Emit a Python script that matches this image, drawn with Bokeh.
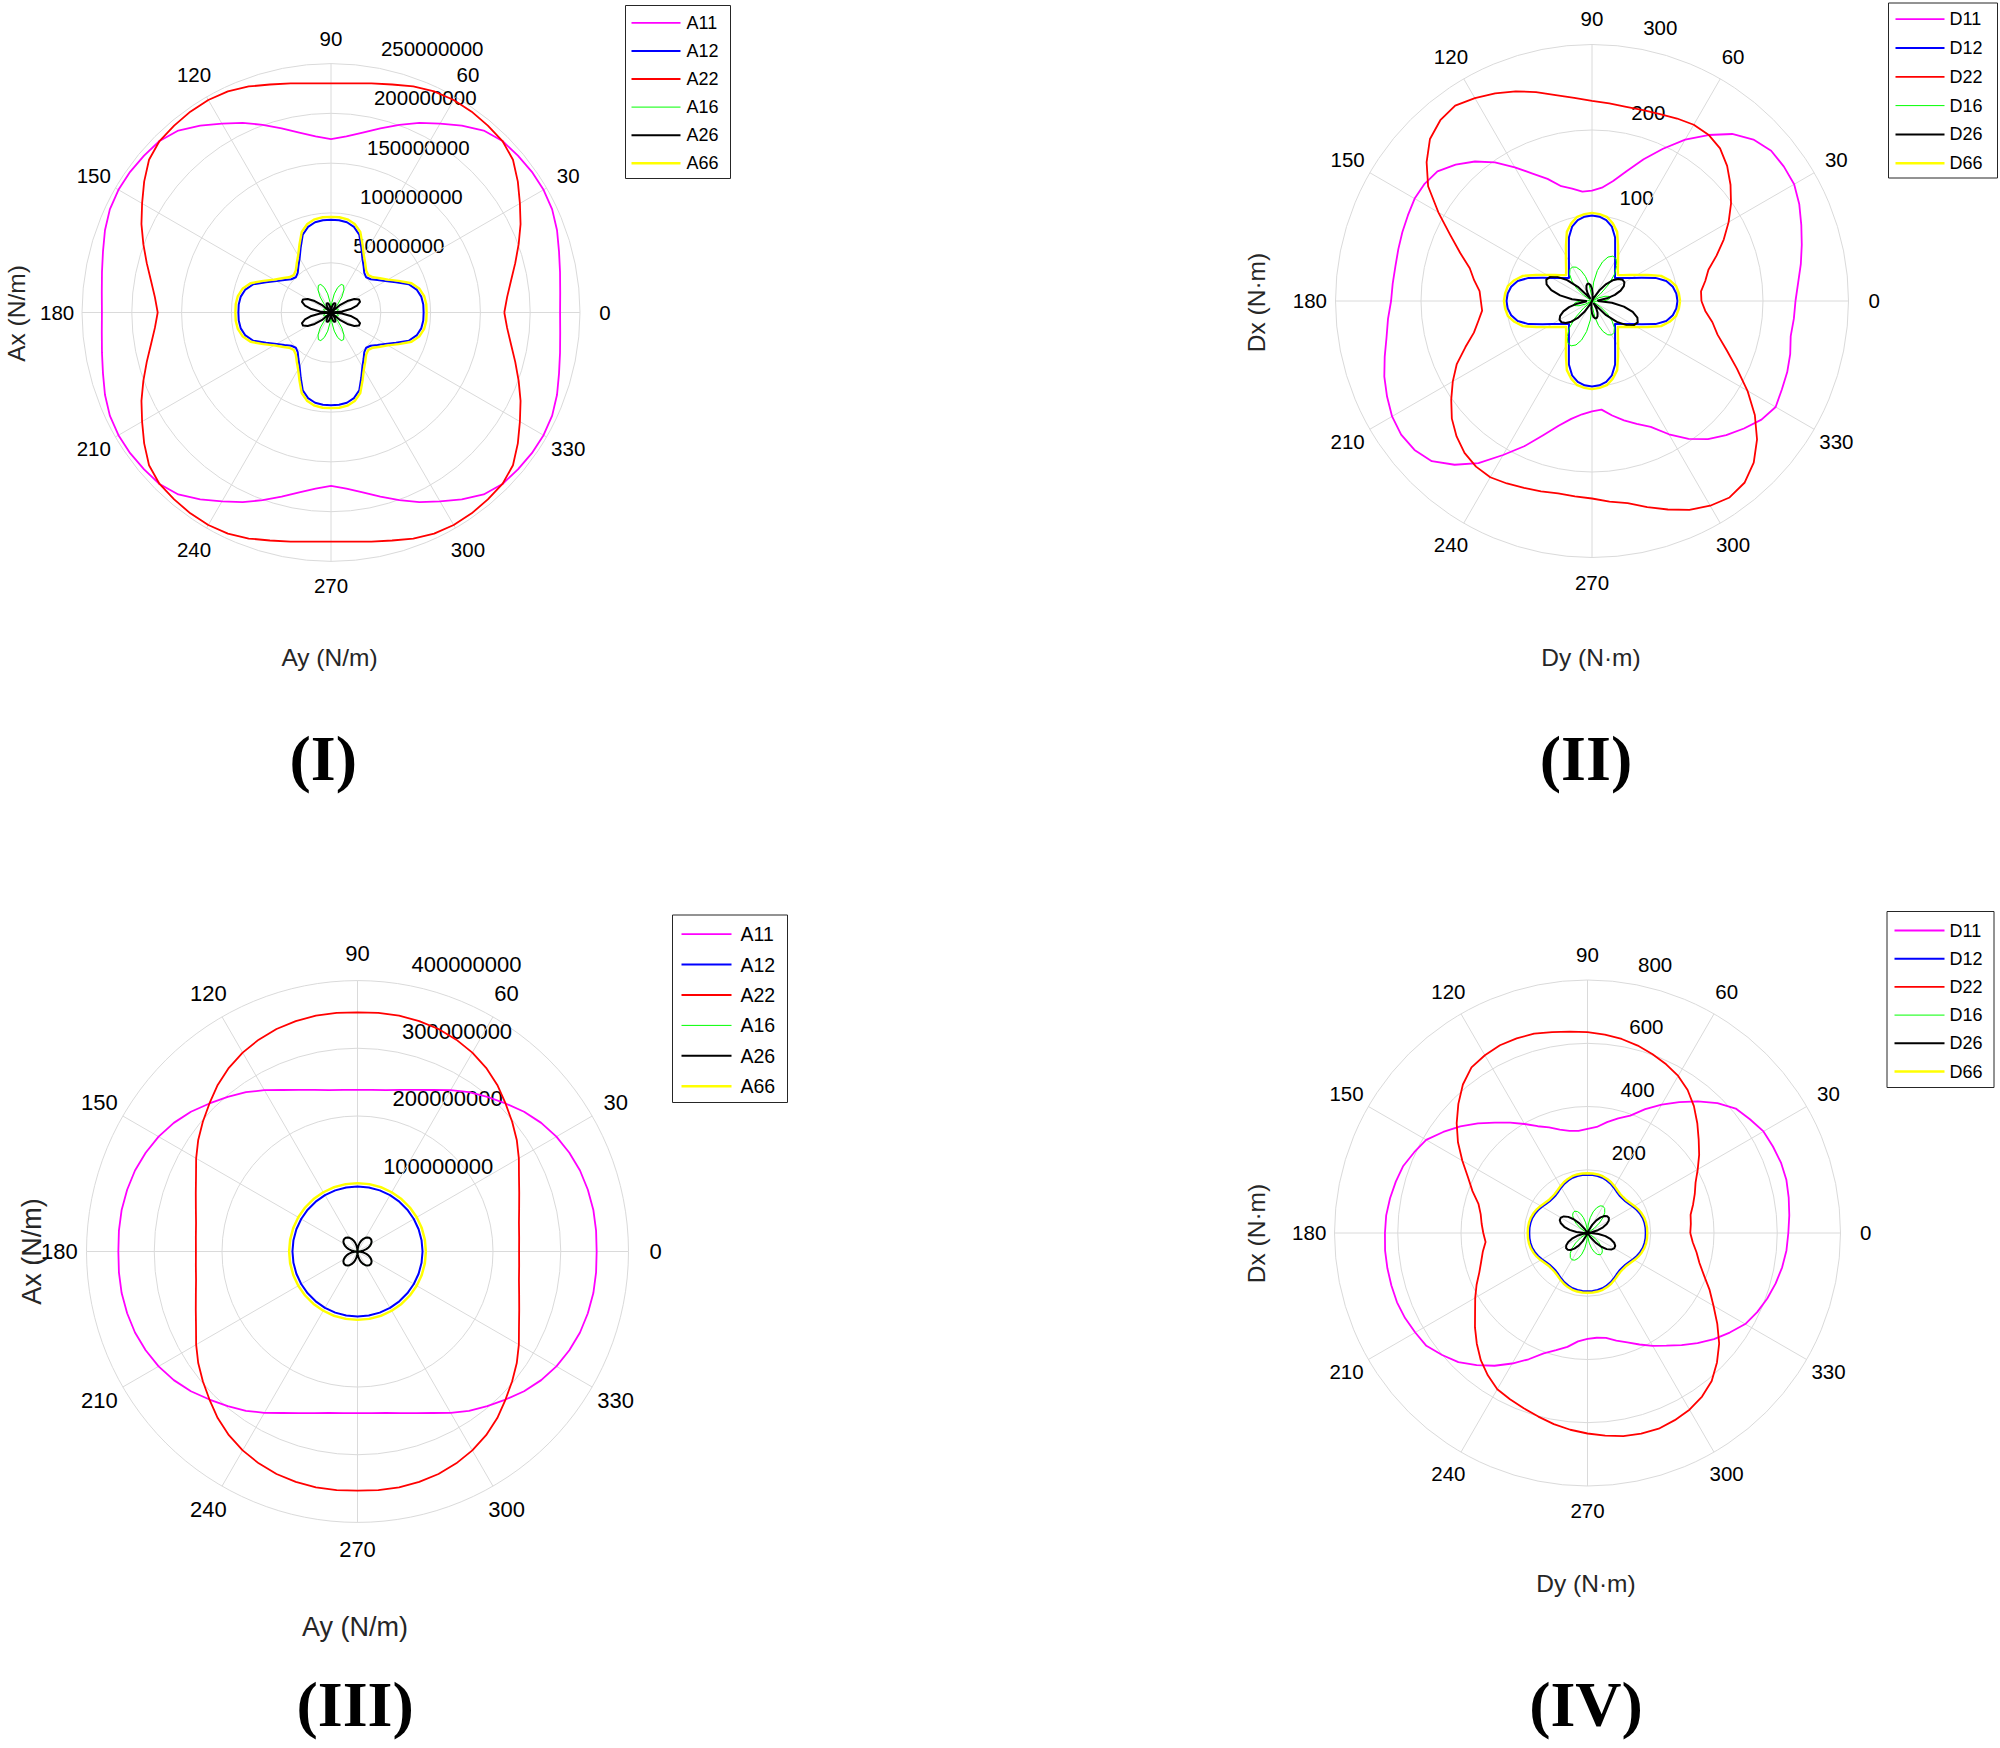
import math
from bokeh.plotting import figure
from bokeh.layouts import column, row
from bokeh.models import Range1d
from bokeh.core.properties import value
from bokeh.embed import file_html
from bokeh.resources import INLINE

# ---------------- angles (degrees) ----------------
TH10 = list(range(0, 360, 10))
TH5 = list(range(0, 360, 5))

# ---------------- Panel I : A matrix (x 1e6 N/m) ----------------
A11_I = [230, 231, 233.5, 237, 241.5, 245, 246.4, 246.2, 245, 243.5, 238.5, 229, 219, 210, 200.5, 191.5, 183.5, 177.5,
         174, 177.5, 183.5, 191.5, 200.5, 210, 219, 229, 238.5, 243.5, 245, 246.2, 246.4, 245, 241.5, 237, 233.5, 231,
         230, 231, 233.5, 237, 241.5, 245, 246.4, 246.2, 245, 243.5, 238.5, 229, 219, 210, 200.5, 191.5, 183.5, 177.5,
         174, 177.5, 183.5, 191.5, 200.5, 210, 219, 229, 238.5, 243.5, 245, 246.2, 246.4, 245, 241.5, 237, 233.5, 231]
A22_I = [174, 177.5, 183.5, 191.5, 200.5, 210, 219, 229, 238.5, 243.5, 245, 246.2, 246.4, 245, 241.5, 237, 233.5, 231,
         230, 231, 233.5, 237, 241.5, 245, 246.4, 246.2, 245, 243.5, 238.5, 229, 219, 210, 200.5, 191.5, 183.5, 177.5,
         174, 177.5, 183.5, 191.5, 200.5, 210, 219, 229, 238.5, 243.5, 245, 246.2, 246.4, 245, 241.5, 237, 233.5, 231,
         230, 231, 233.5, 237, 241.5, 245, 246.4, 246.2, 245, 243.5, 238.5, 229, 219, 210, 200.5, 191.5, 183.5, 177.5]
A12_I = [93, 93, 92, 89, 83, 72, 63, 57, 52, 50, 52, 57, 63, 72, 83, 89, 92, 93,
         93, 93, 92, 89, 83, 72, 63, 57, 52, 50, 52, 57, 63, 72, 83, 89, 92, 93,
         93, 93, 92, 89, 83, 72, 63, 57, 52, 50, 52, 57, 63, 72, 83, 89, 92, 93,
         93, 93, 92, 89, 83, 72, 63, 57, 52, 50, 52, 57, 63, 72, 83, 89, 92, 93]
A66_I = [96, 96, 95, 92, 86, 75, 66, 60, 55, 53, 55, 60, 66, 75, 86, 92, 95, 96,
         96, 96, 95, 92, 86, 75, 66, 60, 55, 53, 55, 60, 66, 75, 86, 92, 95, 96,
         96, 96, 95, 92, 86, 75, 66, 60, 55, 53, 55, 60, 66, 75, 86, 92, 95, 96,
         96, 96, 95, 92, 86, 75, 66, 60, 55, 53, 55, 60, 66, 75, 86, 92, 95, 96]
A16_I = [0, 3, 5, 7, 8, 8, 7, 5, 3, 0, 10, 19, 26, 30, 30, 26, 19, 10,
         0, 10, 19, 26, 30, 30, 26, 19, 10, 0, 3, 5, 7, 8, 8, 7, 5, 3,
         0, 3, 5, 7, 8, 8, 7, 5, 3, 0, 10, 19, 26, 30, 30, 26, 19, 10,
         0, 10, 19, 26, 30, 30, 26, 19, 10, 0, 3, 5, 7, 8, 8, 7, 5, 3]
A26_I = [0, 11, 20, 27, 31, 31, 27, 20, 11, 0, 3, 6, 9, 10, 10, 9, 6, 3,
         0, 3, 6, 9, 10, 10, 9, 6, 3, 0, 11, 20, 27, 31, 31, 27, 20, 11,
         0, 11, 20, 27, 31, 31, 27, 20, 11, 0, 3, 6, 9, 10, 10, 9, 6, 3,
         0, 3, 6, 9, 10, 10, 9, 6, 3, 0, 11, 20, 27, 31, 31, 27, 20, 11]

# ---------------- Panel II : D matrix (N.m) ----------------
D11_II = [238, 242, 248, 254, 260.5, 267.5, 273, 274, 273.5, 267, 255, 237, 218, 196.5, 176.5, 157.5, 142.5, 133,
          129, 128.5, 133.5, 139, 152, 164.5, 180.5, 198, 213, 225.5, 236, 239, 239.5, 237.5, 236, 234.5, 233.5, 234,
          235, 239.5, 244, 251, 258.5, 264.5, 270, 272.5, 271, 265, 250, 231.5, 208, 187.5, 167, 151, 140, 133,
          129, 127.5, 136, 144.5, 153, 162.5, 180, 197, 211, 222, 232, 242, 248, 245, 243, 240, 236, 237]
D22_II = [128, 128, 134.5, 141, 155, 170, 184.5, 198.5, 211.5, 223.5, 233, 237.5, 238, 235.5, 232.5, 231, 230.5, 232,
          234, 238.5, 244.5, 253, 261, 268, 274, 279, 276, 268, 252.5, 234, 207.5, 183, 164, 148, 140, 132,
          130, 129, 135, 143, 157.5, 174.5, 188, 201, 214, 224, 232, 236.5, 238, 235.5, 232.5, 230.5, 228.5, 229.5,
          231, 235.5, 240, 249.5, 259.5, 269.5, 276.5, 280.5, 277.5, 267.5, 252, 232.5, 210, 187, 167.5, 152, 143, 133]
D12_II = [100, 99, 96, 90, 79, 64, 54, 47, 42, 38, 42, 47, 54, 64, 79, 90, 96, 99,
          100, 99, 96, 90, 79, 64, 54, 47, 42, 38, 42, 47, 54, 64, 79, 90, 96, 99,
          100, 99, 96, 90, 79, 64, 54, 47, 42, 38, 42, 47, 54, 64, 79, 90, 96, 99,
          100, 99, 96, 90, 79, 64, 54, 47, 42, 38, 42, 47, 54, 64, 79, 90, 96, 99]
D66_II = [103, 102, 100, 94, 86, 72, 61, 53, 47, 43, 47, 53, 61, 72, 86, 94, 100, 102,
          103, 102, 100, 94, 86, 72, 61, 53, 47, 43, 47, 53, 61, 72, 86, 94, 100, 102,
          103, 102, 100, 94, 86, 72, 61, 53, 47, 43, 47, 53, 61, 72, 86, 94, 100, 102,
          103, 102, 100, 94, 86, 72, 61, 53, 47, 43, 47, 53, 61, 72, 86, 94, 100, 102]
D16_II = [13.5, 19.3, 21.9, 20.8, 16.2, 8.8, 0, 0, 12.9, 28, 41, 50.7, 56.5, 57.9, 54.7, 47.3, 36.2, 22.2,
          6.5, 7.4, 19.3, 29.8, 38.1, 43.6, 45.9, 44.9, 40.7, 33.4, 23.7, 12.3, 0, 0, 0, 0, 0, 5.4,
          13.5, 19.3, 21.9, 20.8, 16.2, 8.8, 0, 0, 12.9, 28, 41, 50.7, 56.5, 57.9, 54.7, 47.3, 36.2, 22.2,
          6.5, 7.4, 19.3, 29.8, 38.1, 43.6, 45.9, 44.9, 40.7, 33.4, 23.7, 12.3, 0, 0, 0, 0, 0, 5.4]
D26_II = [6.9, 6.9, 17.9, 27.7, 35.6, 41.1, 43.8, 43.5, 40.2, 34.2, 25.9, 15.8, 4.6, 0, 0, 0, 2.6, 8.9,
          14.4, 18.4, 20.6, 20.8, 19, 15.3, 10.1, 3.9, 6.9, 23.4, 37.9, 49.3, 56.5, 59, 56.5, 49.3, 37.9, 23.4,
          6.9, 6.9, 17.9, 27.7, 35.6, 41.1, 43.8, 43.5, 40.2, 34.2, 25.9, 15.8, 4.6, 0, 0, 0, 2.6, 8.9,
          14.4, 18.4, 20.6, 20.8, 19, 15.3, 10.1, 3.9, 6.9, 23.4, 37.9, 49.3, 56.5, 59, 56.5, 49.3, 37.9, 23.4]

# ---------------- Panel III : A matrix (x 1e6 N/m) ----------------
A11_III = [353, 353.5, 353.5, 352, 349.5, 345, 339, 331, 321, 309, 298, 287, 275, 263, 254, 247, 242, 239.5,
           238.5, 239.5, 242, 247, 254, 263, 275, 287, 298, 309, 321, 331, 339, 345, 349.5, 352, 353.5, 353.5,
           353, 353.5, 353.5, 352, 349.5, 345, 339, 331, 321, 309, 298, 287, 275, 263, 254, 247, 242, 239.5,
           238.5, 239.5, 242, 247, 254, 263, 275, 287, 298, 309, 321, 331, 339, 345, 349.5, 352, 353.5, 353.5]
A22_III = [238.5, 239.5, 242, 247, 254, 263, 275, 287, 298, 309, 321, 331, 339, 345, 349.5, 352, 353.5, 353.5,
           353, 353.5, 353.5, 352, 349.5, 345, 339, 331, 321, 309, 298, 287, 275, 263, 254, 247, 242, 239.5,
           238.5, 239.5, 242, 247, 254, 263, 275, 287, 298, 309, 321, 331, 339, 345, 349.5, 352, 353.5, 353.5,
           353, 353.5, 353.5, 352, 349.5, 345, 339, 331, 321, 309, 298, 287, 275, 263, 254, 247, 242, 239.5]
A12_III = [96, 96, 96, 96, 96, 96, 96, 96, 96, 96, 96, 96, 96, 96, 96, 96, 96, 96,
           96, 96, 96, 96, 96, 96, 96, 96, 96, 96, 96, 96, 96, 96, 96, 96, 96, 96]
A66_III = [101, 101, 101, 101, 101, 101, 101, 101, 101, 101, 101, 101, 101, 101, 101, 101, 101, 101,
           101, 101, 101, 101, 101, 101, 101, 101, 101, 101, 101, 101, 101, 101, 101, 101, 101, 101]
A16_III = [0, 4.7, 9.2, 13.5, 17.4, 20.7, 23.4, 25.4, 26.6, 27, 26.6, 25.4, 23.4, 20.7, 17.4, 13.5, 9.2, 4.7,
           0, 4.7, 9.2, 13.5, 17.4, 20.7, 23.4, 25.4, 26.6, 27, 26.6, 25.4, 23.4, 20.7, 17.4, 13.5, 9.2, 4.7,
           0, 4.7, 9.2, 13.5, 17.4, 20.7, 23.4, 25.4, 26.6, 27, 26.6, 25.4, 23.4, 20.7, 17.4, 13.5, 9.2, 4.7,
           0, 4.7, 9.2, 13.5, 17.4, 20.7, 23.4, 25.4, 26.6, 27, 26.6, 25.4, 23.4, 20.7, 17.4, 13.5, 9.2, 4.7]
A26_III = [0, 4.7, 9.2, 13.5, 17.4, 20.7, 23.4, 25.4, 26.6, 27, 26.6, 25.4, 23.4, 20.7, 17.4, 13.5, 9.2, 4.7,
           0, 4.7, 9.2, 13.5, 17.4, 20.7, 23.4, 25.4, 26.6, 27, 26.6, 25.4, 23.4, 20.7, 17.4, 13.5, 9.2, 4.7,
           0, 4.7, 9.2, 13.5, 17.4, 20.7, 23.4, 25.4, 26.6, 27, 26.6, 25.4, 23.4, 20.7, 17.4, 13.5, 9.2, 4.7,
           0, 4.7, 9.2, 13.5, 17.4, 20.7, 23.4, 25.4, 26.6, 27, 26.6, 25.4, 23.4, 20.7, 17.4, 13.5, 9.2, 4.7]

# ---------------- Panel IV : D matrix (N.m) ----------------
D11_IV = [635, 640.5, 646, 651, 651, 647, 642.5, 627, 612, 581, 543, 505.5, 469, 432, 395, 375, 356, 336.5,
          329.5, 324, 328, 338.5, 355.5, 372.5, 398, 426, 455.5, 490, 525, 557, 589, 604.5, 620, 627.5, 634, 639,
          640.5, 642.5, 642.5, 642, 641, 636.5, 629, 622, 600, 577.5, 545.5, 512.5, 476.5, 440.5, 405, 383.5, 365.5, 344,
          335, 332.5, 336.5, 352, 368, 389, 412, 435, 463, 492, 522, 549, 576, 592, 605, 616, 625, 631.5]
D22_IV = [325, 328, 331, 345.5, 361, 377, 402.5, 431, 459, 491, 523.5, 552, 573.5, 588.5, 601.5, 613.5, 623, 629.5,
          635, 639, 645, 652.5, 655, 655, 649, 639.5, 613, 577.5, 540, 500, 457, 417, 387, 357, 343, 336,
          329.5, 323.5, 336, 348, 364, 387, 410, 434, 464.5, 495, 525, 549.5, 570.5, 580, 589.5, 601, 613.5, 624.5,
          634, 643, 652, 656.5, 658.5, 653, 645, 631.5, 611, 579, 543.5, 501, 460, 426, 392, 366.5, 350, 334]
D12_IV = [184, 184, 183, 181, 177, 172, 166, 160, 156, 155, 156, 160, 166, 172, 177, 181, 183, 184,
          184, 184, 183, 181, 177, 172, 166, 160, 156, 155, 156, 160, 166, 172, 177, 181, 183, 184,
          184, 184, 183, 181, 177, 172, 166, 160, 156, 155, 156, 160, 166, 172, 177, 181, 183, 184,
          184, 184, 183, 181, 177, 172, 166, 160, 156, 155, 156, 160, 166, 172, 177, 181, 183, 184]
D66_IV = [189, 189, 188, 186, 182, 177, 171, 165, 161, 160, 161, 165, 171, 177, 182, 186, 188, 189,
          189, 189, 188, 186, 182, 177, 171, 165, 161, 160, 161, 165, 171, 177, 182, 186, 188, 189,
          189, 189, 188, 186, 182, 177, 171, 165, 161, 160, 161, 165, 171, 177, 182, 186, 188, 189,
          189, 189, 188, 186, 182, 177, 171, 165, 161, 160, 161, 165, 171, 177, 182, 186, 188, 189]
D16_IV = [0, 0, 0, 0, 0, 0, 0, 25.4, 49, 69.3, 84.9, 94.7, 98, 94.7, 84.9, 69.3, 49, 25.4,
          0, 12.5, 32.5, 50.3, 64.7, 74.7, 79.6, 79, 73.1, 62.2, 47, 28.7, 8.4, 0, 0, 0, 0, 0,
          0, 0, 0, 0, 0, 0, 0, 25.4, 49, 69.3, 84.9, 94.7, 98, 94.7, 84.9, 69.3, 49, 25.4,
          0, 12.5, 32.5, 50.3, 64.7, 74.7, 79.6, 79, 73.1, 62.2, 47, 28.7, 8.4, 0, 0, 0, 0, 0]
D26_IV = [10.3, 0, 13, 33.8, 52.2, 67.1, 77.5, 82.6, 82, 75.9, 64.5, 48.8, 29.7, 8.7, 0, 0, 0, 0,
          0, 0, 0, 0, 0, 0, 0, 15.3, 39.9, 61.6, 79.3, 91.5, 97.5, 96.8, 89.6, 76.1, 57.6, 35.1,
          10.3, 0, 13, 33.8, 52.2, 67.1, 77.5, 82.6, 82, 75.9, 64.5, 48.8, 29.7, 8.7, 0, 0, 0, 0,
          0, 0, 0, 0, 0, 0, 0, 15.3, 39.9, 61.6, 79.3, 91.5, 97.5, 96.8, 89.6, 76.1, 57.6, 35.1]

# ---------------- ticks / labels ----------------
RINGS_I = [50, 100, 150, 200, 250]        # x 1e6
RINGS_II = [100, 200, 300]
RINGS_III = [100, 200, 300, 400]          # x 1e6
RINGS_IV = [200, 400, 600, 800]
SPOKES = [30, 60, 90, 120, 150, 180]
NAMES_A = ["A11", "A12", "A22", "A16", "A26", "A66"]
NAMES_D = ["D11", "D12", "D22", "D16", "D26", "D66"]

# ---------------- styles ----------------
STYLE = [("#ff00ff", 1.8), ("#0000ff", 2.0), ("#ff0000", 1.8),
         ("#00ff00", 1.0), ("#000000", 2.0), ("#ffff00", 2.4)]
GRID = "#dadada"
SANS = "Liberation Sans"
SERIF = "Liberation Serif"


def make_panel(left, top, w, h, cx, cy, rpx, rings, unit, series, names,
               fs_tick, fs_lab, fs_leg, xlab, ylab, xlab_pos, ylab_pos,
               title, title_pos, leg):
    rmax = rings[-1] * unit
    s = rpx / rmax
    X = lambda px: (px - cx) / s
    Y = lambda py: (cy - py) / s
    p = figure(width=w, height=h,
               x_range=Range1d(X(left), X(left + w)),
               y_range=Range1d(Y(top + h), Y(top)),
               output_backend="svg", toolbar_location=None, tools="",
               x_axis_location=None, y_axis_location=None, min_border=0,
               background_fill_color="white", border_fill_color="white")
    p.outline_line_color = None
    p.grid.visible = False

    # rings
    rr = [r * unit for r in rings]
    p.circle(x=[0] * len(rr), y=[0] * len(rr), radius=rr,
             fill_color=None, line_color=GRID, line_width=1)
    # ring labels at 82 deg
    rinc = (rings[1] - rings[0]) * unit
    a82 = math.radians(82)
    p.text(x=[(r + rinc / 20) * math.cos(a82) for r in rr],
           y=[(r + rinc / 20) * math.sin(a82) for r in rr],
           text=[str(int(round(r))) for r in rr],
           text_align="left", text_baseline="bottom",
           x_offset=fs_tick * 0.556 + 3.5, y_offset=-7.5,
           text_font=value(SANS), text_font_size=f"{fs_tick}px", text_color="black")
    # spokes
    cs = [math.cos(math.radians(a)) for a in SPOKES]
    sn = [math.sin(math.radians(a)) for a in SPOKES]
    p.segment(x0=[-rmax * c for c in cs], y0=[-rmax * v for v in sn],
              x1=[rmax * c for c in cs], y1=[rmax * v for v in sn],
              line_color=GRID, line_width=1)
    # spoke labels
    rt = 1.1 * rmax
    lx, ly, lt = [], [], []
    for a, c, v in zip(SPOKES, cs, sn):
        lx.append(rt * c); ly.append(rt * v); lt.append(str(a))
        lx.append(-rt * c); ly.append(-rt * v)
        lt.append("0" if a == 180 else str(a + 180))
    p.text(x=lx, y=ly, text=lt, text_align="center", text_baseline="middle",
           text_font=value(SANS), text_font_size=f"{fs_tick}px", text_color="black")

    # data curves
    for (vals, ths), (col, lw) in zip(series, STYLE):
        xs = [v * unit * math.cos(math.radians(t)) for v, t in zip(vals, ths)]
        ys = [v * unit * math.sin(math.radians(t)) for v, t in zip(vals, ths)]
        xs.append(xs[0]); ys.append(ys[0])
        p.line(xs, ys, line_color=col, line_width=lw, line_join="round")

    # axis labels
    p.text(x=[X(xlab_pos[0])], y=[Y(xlab_pos[1])], text=[xlab],
           text_align="center", text_baseline="middle",
           text_font=value(SANS), text_font_size=f"{fs_lab}px", text_color="#262626")
    p.text(x=[X(ylab_pos[0])], y=[Y(ylab_pos[1])], text=[ylab], angle=math.pi / 2,
           text_align="center", text_baseline="middle",
           text_font=value(SANS), text_font_size=f"{fs_lab}px", text_color="#262626")
    # title
    p.text(x=[X(title_pos[0])], y=[Y(title_pos[1])], text=[title],
           text_align="center", text_baseline="middle",
           text_font=value(SERIF), text_font_style="bold", text_font_size="64px",
           text_color="black")

    # legend
    bx0, by0, bx1, by1 = leg["box"]
    p.quad(left=[X(bx0)], right=[X(bx1)], top=[Y(by0)], bottom=[Y(by1)],
           fill_color="white", line_color="#262626", line_width=1)
    for i, (nm, (col, lw)) in enumerate(zip(names, STYLE)):
        yy = leg["y0"] + i * leg["dy"]
        p.segment(x0=[X(leg["lx0"])], y0=[Y(yy)], x1=[X(leg["lx1"])], y1=[Y(yy)],
                  line_color=col, line_width=lw)
        p.text(x=[X(leg["tx"])], y=[Y(yy)], text=[nm], text_align="left",
               text_baseline="middle", text_font=value(SANS),
               text_font_size=f"{fs_leg}px", text_color="black")
    return p


W_L, W_R = 1000, 999
H_TOP, H_BOT = 874, 873

p1 = make_panel(0, 0, W_L, H_TOP, 330.5, 312, 249, RINGS_I, 1e6,
                [(A11_I, TH5), (A12_I, TH5), (A22_I, TH5), (A16_I, TH5), (A26_I, TH5), (A66_I, TH5)],
                NAMES_A, 20.5, 24.5, 18, "Ay (N/m)", "Ax (N/m)", (329, 657), (16, 313),
                "(I)", (322.7, 757.5),
                dict(box=(625, 5, 730, 178), lx0=631, lx1=680, tx=686, y0=22.3, dy=28.1))

p2 = make_panel(1000, 0, W_R, H_TOP, 1591.5, 300.5, 256.5, RINGS_II, 1,
                [(D11_II, TH5), (D12_II, TH5), (D22_II, TH5), (D16_II, TH5), (D26_II, TH5), (D66_II, TH5)],
                NAMES_D, 20.5, 24.5, 18, "Dy (N\u00b7m)", "Dx (N\u00b7m)", (1590.5, 657), (1256, 302),
                "(II)", (1585.5, 757.5),
                dict(box=(1888, 2.5, 1997, 177.5), lx0=1895, lx1=1944, tx=1949, y0=18.7, dy=28.8))

p3 = make_panel(0, 874, W_L, H_BOT, 357, 1251, 271, RINGS_III, 1e6,
                [(A11_III, TH5), (A12_III, TH10), (A22_III, TH5), (A16_III, TH5), (A26_III, TH5), (A66_III, TH10)],
                NAMES_A, 22, 27, 19.5, "Ay (N/m)", "Ax (N/m)", (354.6, 1626), (31, 1251),
                "(III)", (354.6, 1703.5),
                dict(box=(672, 914.5, 787, 1102), lx0=681, lx1=731, tx=740, y0=933.7, dy=30.4))

p4 = make_panel(1000, 874, W_R, H_BOT, 1587, 1232.5, 253, RINGS_IV, 1,
                [(D11_IV, TH5), (D12_IV, TH5), (D22_IV, TH5), (D16_IV, TH5), (D26_IV, TH5), (D66_IV, TH5)],
                NAMES_D, 20.5, 24.5, 18, "Dy (N\u00b7m)", "Dx (N\u00b7m)", (1585.5, 1583), (1256.4, 1233),
                "(IV)", (1585.5, 1703.5),
                dict(box=(1886.5, 911, 1993.5, 1087), lx0=1894, lx1=1944, tx=1949, y0=930, dy=28.2))

layout = column(row(p1, p2), row(p3, p4))
open("out.html", "w").write(file_html(layout, INLINE, title="Polar stiffness plots"))
